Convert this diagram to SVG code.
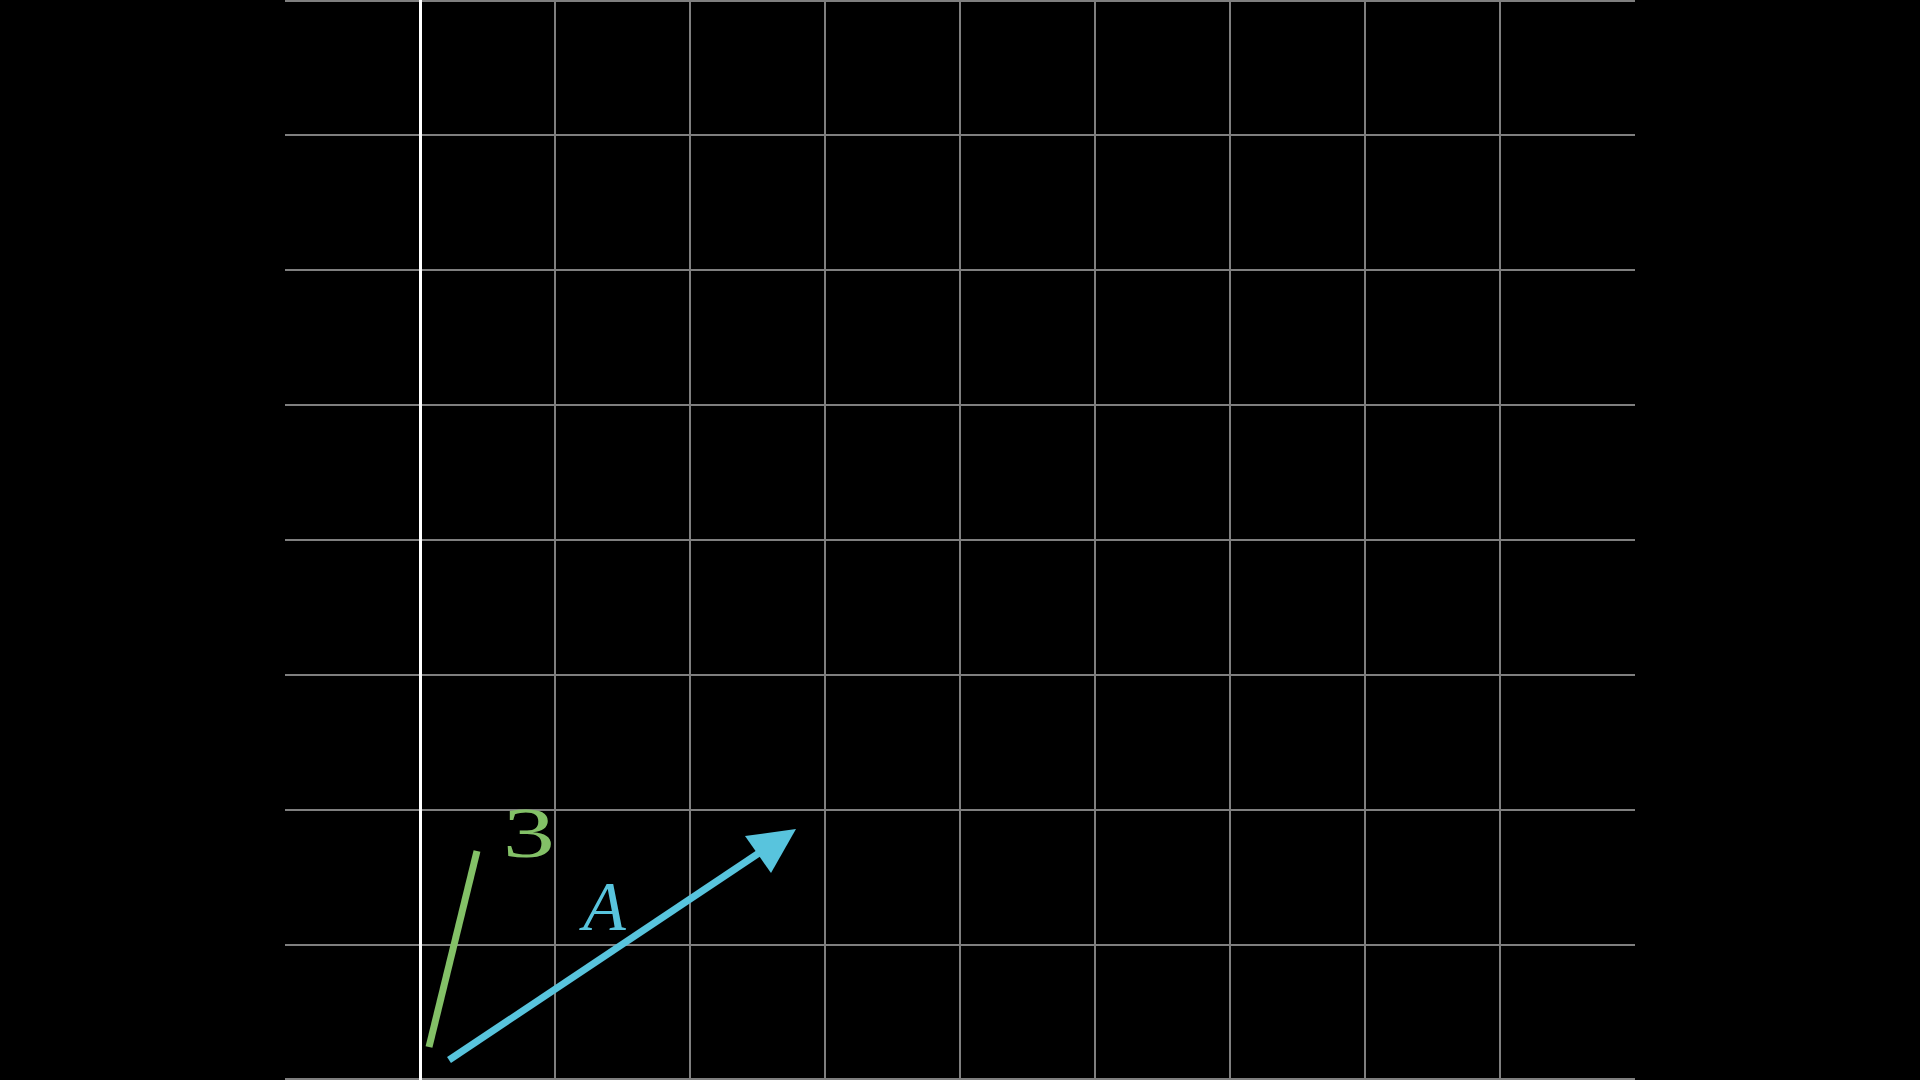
<svg xmlns="http://www.w3.org/2000/svg" width="1920" height="1080" viewBox="0 0 1920 1080">
<style>
.grid{stroke:#7f7f7f;stroke-width:2;fill:none}
.axis{stroke:#ffffff;stroke-width:3;fill:none}
.lbl{font-family:"Liberation Serif","DejaVu Serif",serif;font-style:italic;font-size:70px}
</style>
<rect x="0" y="0" width="1920" height="1080" fill="#000"/>
<g id="grid">
<path class="grid" d="M285 1H1635M285 135H1635M285 270H1635M285 405H1635M285 540H1635M285 675H1635M285 810H1635M285 945H1635M285 1079H1635"/>
<path class="grid" d="M555 0V1080M690 0V1080M825 0V1080M960 0V1080M1095 0V1080M1230 0V1080M1365 0V1080M1500 0V1080"/>
<path class="axis" d="M420.5 0V1080"/>
</g>
<g id="connectors">
<line id="vecB" x1="429" y1="1047" x2="477" y2="851" stroke="#83C167" stroke-width="7"/>
<line id="vecA" x1="449" y1="1060" x2="762" y2="851" stroke="#58C4DD" stroke-width="7"/>
<polygon points="796,829 745,836 771,873" fill="#58C4DD"/>
</g>
<g id="labelA"><text class="lbl" x="583" y="930" fill="#58C4DD">A</text></g>
<g id="labelB"><text class="lbl" transform="translate(507,857) scale(1.45,1)" x="-3" y="0" fill="#83C167" style="font-style:normal;font-size:72px">3</text></g>
</svg>
